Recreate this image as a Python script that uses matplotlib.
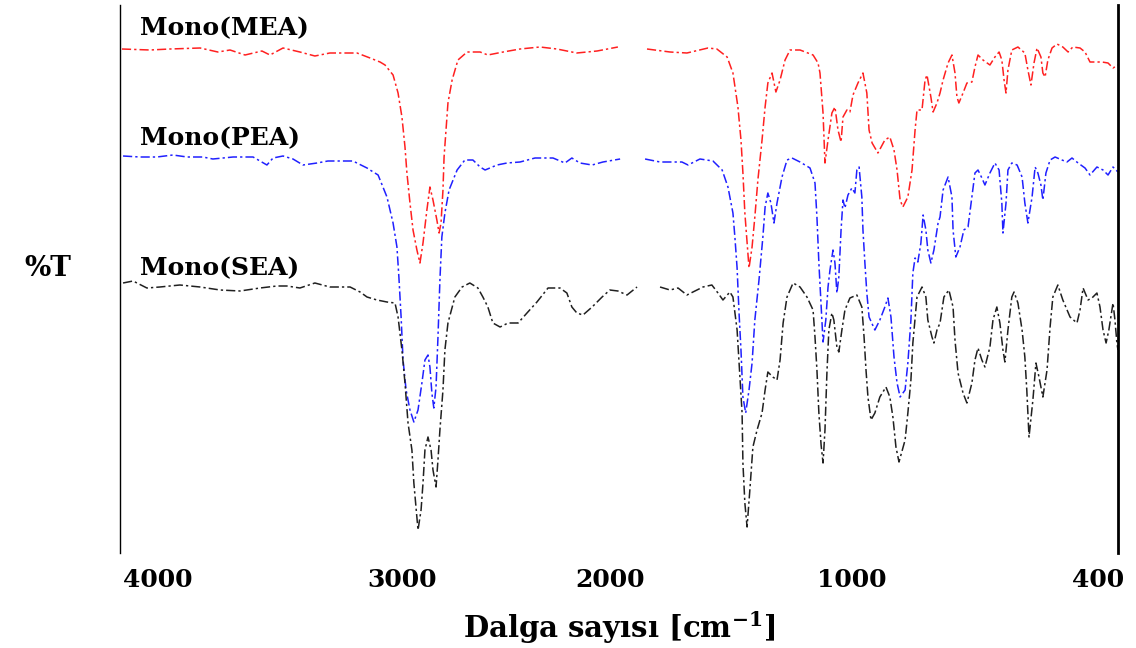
import numpy as np
import matplotlib
matplotlib.use("Agg")
import matplotlib.pyplot as plt

# FTIR spectra (wavenumber in cm-1, transmittance in arbitrary %T)
wn_mea = [3993, 3892, 3820, 3711, 3647, 3603, 3549, 3488, 3459, 3412, 3351, 3297, 3243, 3145,
          3098, 3062, 3044, 3015, 2997, 2983, 2972, 2965, 2954, 2943, 2929, 2918, 2907, 2893,
          2882, 2871, 2857, 2849, 2842, 2835, 2831, 2824, 2817, 2802, 2781, 2748, 2701, 2673,
          2618, 2557, 2485, 2424, 2352, 2279, 2204, np.nan, 2099, 2016, 1955, 1879, 1847, 1810,
          1789, 1771, 1760, 1753, 1746, 1738, 1731, 1720, 1710, 1699, 1684, 1673, 1663, 1648,
          1634, 1619, 1601, 1583, 1547, 1500, 1482, 1475, 1464, 1457, 1446, 1432, 1421, 1410,
          1399, 1392, 1378, 1367, 1356, 1338, 1320, 1306, 1298, 1287, 1266, 1241, 1223, 1208,
          1197, 1186, 1176, 1158, 1143, 1132, 1125, 1107, 1096, 1089, 1075, 1067, 1053, 1042,
          1031, 1013, 999, 988, 981, 974, 959, 945, 927, 916, 905, 887, 862, 844, 829, 819,
          811, 804, 797, 783, 761, 736, 725, 714, 703, 692, 678, 671, 663, 653, 638, 620, 599,
          580, 563, 537, 519, 501, 476, 458, 436, 418, 400]
t_mea = [100.8, 100.6, 100.8, 101.0, 100.2, 100.6, 99.6, 100.4, 99.6, 101.0, 100.2, 99.4, 100.0, 100.0,
         99.0, 98.2, 97.6, 95.6, 92.0, 87.2, 81.2, 76.0, 70.0, 64.6, 60.6, 58.0, 62.0, 68.6,
         73.2, 70.6, 66.6, 64.0, 66.0, 72.6, 79.2, 84.6, 90.0, 94.6, 98.6, 100.2, 100.2, 99.6,
         100.2, 100.8, 101.2, 100.8, 100.0, 100.4, 101.2, np.nan, 100.8, 100.2, 100.0, 101.0, 100.8, 99.2,
         96.0, 89.2, 82.6, 76.0, 68.0, 62.0, 57.0, 61.2, 67.2, 74.6, 82.6, 89.2, 94.0, 96.0,
         92.2, 94.6, 98.6, 100.6, 100.6, 99.6, 98.0, 96.0, 88.0, 78.0, 82.6, 88.0, 89.2, 84.6,
         82.2, 87.2, 88.6, 88.2, 91.6, 94.0, 96.0, 92.0, 84.6, 82.0, 80.0, 82.6, 83.2, 80.6,
         76.6, 70.6, 69.2, 71.2, 76.6, 84.6, 88.6, 88.6, 94.6, 95.6, 91.2, 88.2, 90.0, 92.0,
         94.6, 98.0, 99.6, 96.0, 91.2, 90.0, 92.0, 94.0, 94.2, 97.2, 99.6, 98.6, 97.6, 99.2, 100.2, 98.6,
         94.6, 92.0, 96.6, 100.6, 101.2, 100.0, 96.6, 93.6, 98.0, 101.0, 99.2, 96.0, 95.2, 98.6, 101.0, 101.8, 101.2,
         100.2, 101.2, 101.0, 100.2, 98.2, 98.2, 98.2, 98.0, 97.0, 97.6]

wn_pea = [3989, 3928, 3867, 3809, 3758, 3701, 3665, 3592, 3520, 3470, 3448, 3412, 3376, 3340,
          3289, 3250, 3160, 3109, 3098, 3069, 3037, 3015, 3001, 2994, 2986, 2979, 2968, 2954,
          2940, 2925, 2911, 2900, 2889, 2882, 2875, 2868, 2860, 2853, 2846, 2839, 2828, 2813,
          2784, 2756, 2727, 2701, 2683, 2640, 2604, 2557, 2503, 2438, 2395, 2370, 2341, 2297,
          2258, 2196, np.nan, 2106, 2052, 2016, 1973, 1951, 1908, 1861, 1828, 1807, 1789, 1782,
          1774, 1767, 1760, 1753, 1743, 1731, 1720, 1710, 1695, 1681, 1673, 1663, 1652, 1641,
          1630, 1612, 1594, 1576, 1547, 1511, 1493, 1486, 1479, 1471, 1464, 1454, 1446, 1439,
          1428, 1421, 1414, 1407, 1399, 1392, 1385, 1374, 1360, 1349, 1342, 1334, 1324, 1320,
          1313, 1306, 1298, 1277, 1259, 1241, 1230, 1219, 1208, 1197, 1186, 1168, 1158, 1147,
          1140, 1132, 1122, 1111, 1103, 1093, 1086, 1075, 1064, 1049, 1042, 1031, 1013, 999,
          995, 985, 970, 956, 941, 927, 916, 905, 891, 880, 862, 844, 829, 819, 815, 804, 797,
          783, 764, 746, 736, 725, 710, 699, 689, 678, 671, 660, 645, 627, 602, 584, 566, 544,
          519, 501, 476, 454, 436, 418, 400]
t_pea = [79.4, 79.2, 79.2, 79.6, 79.2, 79.2, 78.8, 79.2, 79.2, 77.6, 79.0, 79.4, 78.8, 77.6,
         78.0, 78.4, 78.4, 77.0, 76.6, 75.6, 71.2, 66.0, 61.2, 55.2, 47.2, 38.6, 32.6, 28.6,
         26.2, 28.6, 34.0, 38.6, 39.6, 37.2, 32.0, 29.0, 33.2, 43.2, 54.6, 63.2, 68.0, 72.6,
         76.6, 78.6, 78.6, 77.2, 76.6, 77.6, 78.0, 78.2, 79.0, 79.0, 78.0, 79.0, 78.0, 77.6,
         78.2, 78.8, np.nan, 78.8, 78.2, 78.2, 78.2, 77.6, 78.8, 78.4, 76.6, 73.2, 68.0, 63.2,
         57.0, 48.0, 40.6, 31.2, 28.0, 32.6, 38.0, 46.6, 54.6, 63.2, 69.2, 72.0, 70.0, 66.0,
         70.0, 75.2, 78.6, 79.0, 78.2, 77.0, 74.0, 67.2, 58.0, 49.6, 42.2, 46.6, 53.2, 56.6,
         60.6, 58.0, 52.0, 55.2, 64.6, 70.6, 69.0, 71.6, 73.0, 72.0, 76.6, 77.2, 71.2, 64.6,
         58.0, 52.0, 47.2, 44.6, 46.6, 49.2, 51.0, 47.2, 39.2, 34.0, 31.2, 32.6, 38.0, 46.6,
         56.0, 59.0, 58.2, 62.0, 67.6, 64.6, 60.6, 58.0, 60.6, 66.0, 67.2, 72.6, 75.2, 71.2,
         64.6, 59.2, 61.2, 64.6, 65.2, 71.2, 76.0, 76.6, 75.0, 73.6, 76.0, 78.0, 76.6, 70.0, 64.0, 70.0, 76.6,
         78.0, 77.6, 75.2, 70.0, 66.0, 71.2, 77.2, 76.0, 73.6, 70.6, 76.0, 78.6, 79.2, 78.6, 78.2, 79.0, 78.0,
         77.0, 75.6, 77.2, 76.6, 75.6, 77.2, 76.2]

wn_sea = [3989, 3953, 3903, 3856, 3784, 3711, 3639, 3567, 3495, 3434, 3398, 3351, 3297, 3243,
          3170, 3134, 3109, 3073, 3037, 3008, 2997, 2983, 2972, 2961, 2947, 2940, 2929, 2925,
          2914, 2907, 2900, 2889, 2878, 2871, 2860, 2853, 2846, 2835, 2828, 2817, 2792, 2766,
          2738, 2709, 2691, 2673, 2655, 2629, 2600, 2564, 2532, 2496, 2456, 2413, 2388, 2370,
          2352, 2330, 2297, 2261, 2233, 2204, 2171, 2135, np.nan, 2052, 2016, 1987, 1955, 1933,
          1897, 1865, 1843, 1825, 1800, 1789, 1774, 1767, 1756, 1753, 1746, 1738, 1728, 1717,
          1702, 1684, 1673, 1663, 1645, 1630, 1619, 1608, 1594, 1572, 1547, 1522, 1500, 1493,
          1486, 1479, 1471, 1464, 1457, 1450, 1443, 1432, 1425, 1414, 1407, 1396, 1385, 1367,
          1342, 1324, 1316, 1309, 1302, 1291, 1277, 1259, 1237, 1223, 1212, 1201, 1190, 1168,
          1158, 1147, 1140, 1125, 1107, 1093, 1086, 1071, 1064, 1053, 1042, 1028, 1010, 995,
          988, 977, 959, 945, 927, 916, 905, 891, 880, 862, 851, 837, 826, 815, 808, 797, 783,
          775, 761, 746, 736, 729, 721, 707, 696, 685, 671, 656, 645, 635, 617, 599, 573, 548,
          537, 526, 508, 494, 476, 465, 454, 443, 433, 418, 411, 404, 400]
t_sea = [54.0, 54.4, 53.0, 53.2, 53.6, 53.2, 52.6, 52.4, 53.0, 53.4, 53.4, 53.0, 54.0, 53.2,
         53.2, 52.2, 51.2, 50.6, 50.2, 50.0, 47.2, 40.6, 34.0, 26.0, 20.6, 14.0, 7.2, 4.6,
         8.6, 14.0, 20.6, 23.2, 20.6, 16.6, 13.2, 18.6, 24.6, 32.6, 40.6, 46.0, 51.2, 53.2,
         54.0, 53.0, 51.2, 49.2, 46.0, 45.2, 46.0, 46.0, 48.0, 50.2, 53.0, 53.0, 52.0, 49.2,
         48.0, 47.6, 49.2, 51.2, 52.6, 52.4, 51.6, 53.2, np.nan, 53.2, 52.6, 53.0, 51.6, 52.2,
         53.2, 53.6, 52.0, 50.6, 52.2, 51.2, 44.6, 38.0, 28.0, 18.0, 10.0, 5.2, 12.6, 21.2,
         24.6, 28.0, 32.6, 36.2, 35.2, 34.6, 38.6, 46.0, 51.2, 54.0, 53.2, 51.2, 48.6, 43.2,
         36.6, 28.0, 21.6, 18.0, 24.6, 36.0, 44.6, 48.0, 46.6, 41.2, 40.2, 44.6, 48.6, 51.0,
         51.6, 49.2, 43.2, 36.6, 31.2, 26.6, 28.0, 31.2, 33.2, 31.2, 27.2, 21.2, 18.2, 22.6,
         28.0, 34.6, 42.0, 51.2, 53.2, 51.2, 46.6, 43.2, 42.0, 44.6, 46.0, 51.2, 52.6, 49.2,
         42.6, 36.0, 32.0, 30.0, 34.0, 38.6, 41.0, 38.6, 37.2, 41.2, 46.6, 49.2, 46.0, 40.6, 38.2, 44.6, 51.2,
         52.2, 50.0, 44.6, 39.2, 32.6, 23.2, 30.6, 38.0, 35.2, 31.2, 36.6, 45.2, 51.2, 53.6, 50.6, 47.2, 46.0,
         48.6, 53.0, 50.6, 51.0, 52.0, 49.2, 44.6, 42.0, 44.6, 50.0, 46.6, 42.0, 40.6]

series_names = ["Mono(MEA)", "Mono(PEA)", "Mono(SEA)"]
series_colors = ["#ff2020", "#2020ff", "#202020"]
label_levels = [105, 83, 57]

# tick labels sit where the original figure printed them
tick_pos = [3863, 2983, 2233, 1360, 472]
tick_labels = ["4000", "3000", "2000", "1000", "400"]

plt.rcParams["font.family"] = ["DejaVu Serif"]
plt.rcParams["mathtext.fontset"] = "dejavuserif"

fig = plt.figure(figsize=(11.36, 6.48), dpi=100)
ax = fig.add_axes([120 / 1136, 1 - 553 / 648, 998 / 1136, 548 / 648])

for wn, t, c in zip([wn_mea, wn_pea, wn_sea], [t_mea, t_pea, t_sea], series_colors):
    ax.plot(wn, t, color=c, lw=1.1, linestyle=(0, (6, 2, 1.5, 2)))

for name, lvl in zip(series_names, label_levels):
    ax.text(3928, lvl, name, fontsize=18, fontweight="bold", ha="left", va="center")

ax.set_xlim(4000, 400)
ax.set_ylim(0, 109.6)
ax.set_xticks(tick_pos)
ax.set_xticklabels(tick_labels, fontsize=18, fontweight="bold")
ax.tick_params(axis="x", length=0, pad=11)
ax.set_yticks([])

ax.spines["top"].set_visible(False)
ax.spines["bottom"].set_visible(False)
ax.spines["left"].set_linewidth(1.0)
ax.spines["right"].set_linewidth(2.0)

ax.set_xlabel(r"Dalga sayısı [cm$^{\mathbf{-1}}$]", fontsize=21, fontweight="bold", labelpad=12)
ax.set_ylabel("%T", fontsize=20, fontweight="bold", rotation=0, va="center", ha="center")
ax.yaxis.set_label_coords(-0.072, 0.52)

fig.savefig("out.png", dpi=100)
